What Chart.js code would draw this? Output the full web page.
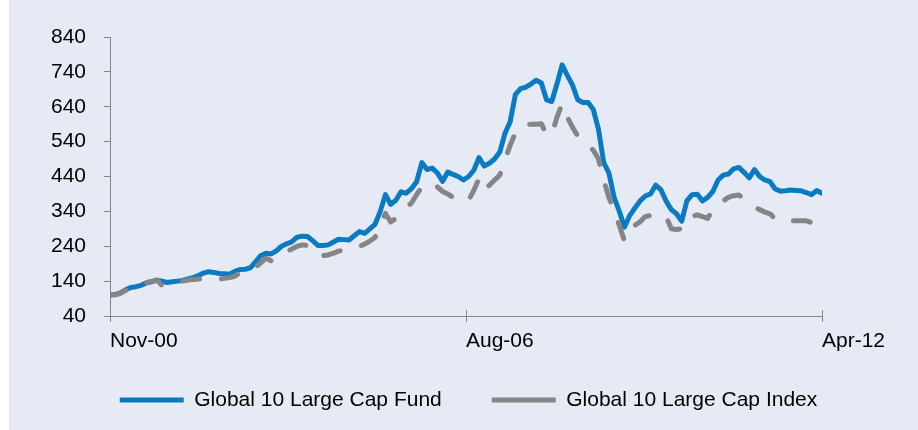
<!DOCTYPE html>
<html>
<head>
<meta charset="utf-8">
<script src="https://cdn.jsdelivr.net/npm/chart.js@4/dist/chart.umd.min.js"></script>
<style>
  html, body { margin: 0; padding: 0; background: #ffffff; }
  #wrap { position: absolute; left: 9px; top: 0; width: 909px; height: 430px; background: #e6eaf4; }
</style>
</head>
<body>
<div id="wrap"><canvas id="lineChart" width="909" height="430"></canvas></div>
<script>
// monthly values, Nov-00 .. Apr-12
var fundValues = [
    100, 102, 106, 115, 122, 124, 128, 135, 138, 143,
    140, 136, 138, 140, 142, 146, 150, 156, 163, 167,
    165, 162, 161, 160, 168, 173, 174, 178, 195, 213,
    220, 218, 227, 240, 247, 253, 266, 269, 268, 256,
    242, 242, 244, 252, 260, 259, 258, 270, 282, 277,
    290, 303, 340, 388, 360, 372, 396, 392, 405, 425,
    480, 460, 464, 450, 426, 453, 446, 440, 430, 440,
    458, 494, 470, 478, 490, 510, 564, 597, 675, 692,
    696, 705, 716, 708, 660, 655, 705, 760, 730, 702,
    660, 652, 652, 632, 575, 480, 450, 380, 340, 295,
    328, 350, 370, 384, 390, 415, 402, 370, 345, 333,
    312, 370, 388, 389, 370, 380, 397, 430, 444, 447,
    462, 466, 452, 436, 460, 440, 430, 425, 404, 398,
    399, 401, 400, 399, 394, 388, 400, 392
];
var indexValues = [
    100, 101, 105, 113, 120, 125, 130, 136, 139, 143,
    128, 130, 134, 137, 140, 143, 145, 146, 145, 144,
    143, 146, 148, 150, 154, 164, 170, 175, 180, 192,
    206, 198, 204, 214, 225, 232, 240, 244, 242, 228,
    214, 213, 215, 220, 226, 229, 232, 236, 240, 246,
    255, 265, 300, 334, 310, 320, 336, 350, 364, 388,
    410, 419, 421, 410, 397, 390, 380, 376, 368, 372,
    400, 434, 402, 415, 430, 444, 486, 530, 565, 584,
    588, 590, 590, 591, 560, 560, 610, 648, 610, 581,
    556, 540, 530, 515, 490, 430, 380, 340, 300, 255,
    280, 300, 310, 325, 328, 327, 327, 326, 290, 288,
    290, 296, 325, 330, 325, 320, 345, 360, 370, 380,
    385, 387, 375, 360, 353, 345, 338, 333, 318, 313,
    312, 313, 313, 313, 313, 308, 312, 301
];
var xTickMonths = [0, 68.5, 137];
var xTickLabels = ["Nov-00", "Aug-06", "Apr-12"];
var seriesNames = ["Global 10 Large Cap Fund", "Global 10 Large Cap Index"];

var axisGrey = "#868686";
var fontName = "'Liberation Sans', Arial, sans-serif";

function toPoints(values) {
    return values.map(function (v, i) { return { x: i, y: v }; });
}

// small inward part of the x-axis tick marks
var innerTicks = {
    id: "innerTicks",
    afterDraw: function (chart) {
        var xs = chart.scales.x;
        var ctx = chart.ctx;
        var base = chart.chartArea.bottom;
        ctx.save();
        ctx.strokeStyle = axisGrey;
        ctx.lineWidth = 1;
        xs.ticks.forEach(function (t) {
            var px = Math.round(xs.getPixelForValue(t.value)) + 0.5;
            ctx.beginPath();
            ctx.moveTo(px, base);
            ctx.lineTo(px, base - 6);
            ctx.stroke();
        });
        ctx.restore();
    }
};

var ctxL = document.getElementById("lineChart").getContext("2d");
var myLineChart = new Chart(ctxL, {
    type: "line",
    data: {
        datasets: [{
            label: seriesNames[0],
            data: toPoints(fundValues),
            borderColor: "#0a7bc2",
            backgroundColor: "#0a7bc2",
            borderWidth: 5,
            borderCapStyle: "round",
            borderJoinStyle: "round",
            pointRadius: 0,
            tension: 0,
            order: 1
        }, {
            label: seriesNames[1],
            data: toPoints(indexValues),
            borderColor: "#858585",
            backgroundColor: "#858585",
            borderWidth: 5,
            borderDash: [17, 22],
            borderCapStyle: "round",
            borderJoinStyle: "round",
            pointRadius: 0,
            tension: 0,
            order: 0
        }]
    },
    options: {
        responsive: false,
        animation: false,
        devicePixelRatio: 1,
        layout: { padding: { left: 10, right: 0, top: 37, bottom: 9.5 } },
        plugins: {
            tooltip: { enabled: false },
            legend: {
                position: "bottom",
                align: "center",
                reverse: true,
                labels: {
                    usePointStyle: true,
                    pointStyle: "line",
                    pointStyleWidth: 64,
                    padding: 50,
                    color: "#000000",
                    font: { family: fontName, size: 21 }
                }
            }
        },
        scales: {
            x: {
                type: "linear",
                min: 0,
                max: fundValues.length - 1,
                afterBuildTicks: function (scale) {
                    scale.ticks = xTickMonths.map(function (m) { return { value: m }; });
                },
                afterFit: function (scale) {
                    scale.height = 23.5;
                    // labels hang below the thin axis box, so do not clip them
                    scale._computeLabelArea = function () { return undefined; };
                },
                border: { display: true, color: axisGrey, width: 1 },
                grid: { drawOnChartArea: false, color: axisGrey, tickLength: 6 },
                ticks: {
                    align: "start",
                    maxRotation: 0,
                    autoSkip: false,
                    padding: 7,
                    color: "#000000",
                    font: { family: fontName, size: 21 },
                    callback: function (value) {
                        var k = xTickMonths.indexOf(value);
                        return k >= 0 ? xTickLabels[k] : "";
                    }
                }
            },
            y: {
                min: 40,
                max: 840,
                afterFit: function (scale) { scale.width = 91; },
                border: { display: true, color: axisGrey, width: 1 },
                grid: { drawOnChartArea: false, color: axisGrey, tickLength: 6 },
                ticks: {
                    stepSize: 100,
                    autoSkip: false,
                    padding: 18,
                    color: "#000000",
                    font: { family: fontName, size: 21 }
                }
            },
            // empty right-hand box that keeps the plot clear of the right edge
            yRight: {
                type: "linear",
                position: "right",
                afterFit: function (scale) { scale.width = 96; },
                grid: { display: false },
                border: { display: false },
                ticks: { display: false }
            }
        }
    },
    plugins: [innerTicks]
});
</script>
</body>
</html>
